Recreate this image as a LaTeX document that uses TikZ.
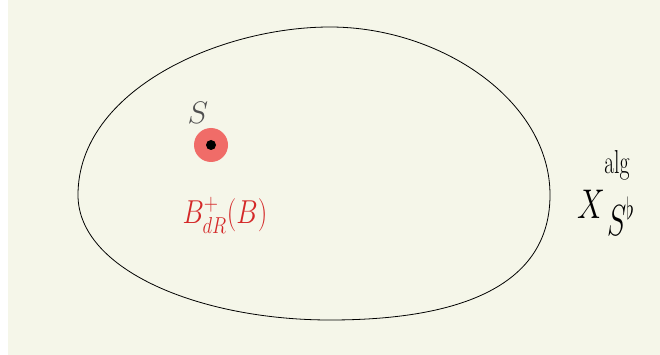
\documentclass[tikz,border=0pt]{standalone}
\usepackage{amssymb,amsmath}
\usepackage{xcolor}
\usepackage{tikz}
\usetikzlibrary{positioning, calc}
\definecolor{papercream}{RGB}{245, 246, 233}
\definecolor{discred}{RGB}{240, 108, 104}
\definecolor{inkred}{RGB}{212, 40, 40}
\definecolor{inkgray}{RGB}{80, 80, 80}

\begin{document}
\begin{tikzpicture}[
        x=1pt, y=-1pt,
        % --- styles ---
        label/.style={inner sep=0pt, font=\huge, transform shape},
        redlabel/.style={label, text=inkred},
        blobline/.style={line width=0.8pt, black}
    ]

    % --- page ---
    \useasboundingbox (0,0) rectangle (660,355);
    \fill[white] (0,0) rectangle (660,355);
    \fill[papercream] (8,0) rectangle (660,355);

    % --- the space ---
    \coordinate (top) at (330,27);
    \coordinate (right) at (550,195);
    \coordinate (bottom) at (330,320);
    \coordinate (left) at (78,195);
    \draw[blobline] (top) .. controls (440,27) and (550,100) .. (right)
        .. controls (550,300) and (430,320) .. (bottom)
        .. controls (200,320) and (78,270) .. (left)
        .. controls (78,90) and (220,27) .. (top) -- cycle;

    % --- the point S ---
    \fill[discred] (211,145) coordinate (point) circle (17);
    \fill[black] (point) circle (5);
    \node[label, text=inkgray, scale=1.5] (Slabel) at (198,113) {$S$};

    % --- red label ---
    \node[redlabel, xscale=1.3, yscale=1.6] (Bdr) at (225,215) {$B^{+}_{dR}(B)$};

    % --- right label ---
    \node[label, xscale=1.5, yscale=2] (Xalg) at (591,204) {$X$};
    \node[label, xscale=1.05, yscale=1.6] (alg) at (617,165) {$\mathrm{alg}$};
    \node[label, xscale=1.4, yscale=2.1] (Sflat) at (621,216) {$S^{\flat}$};

\end{tikzpicture}
\end{document}
